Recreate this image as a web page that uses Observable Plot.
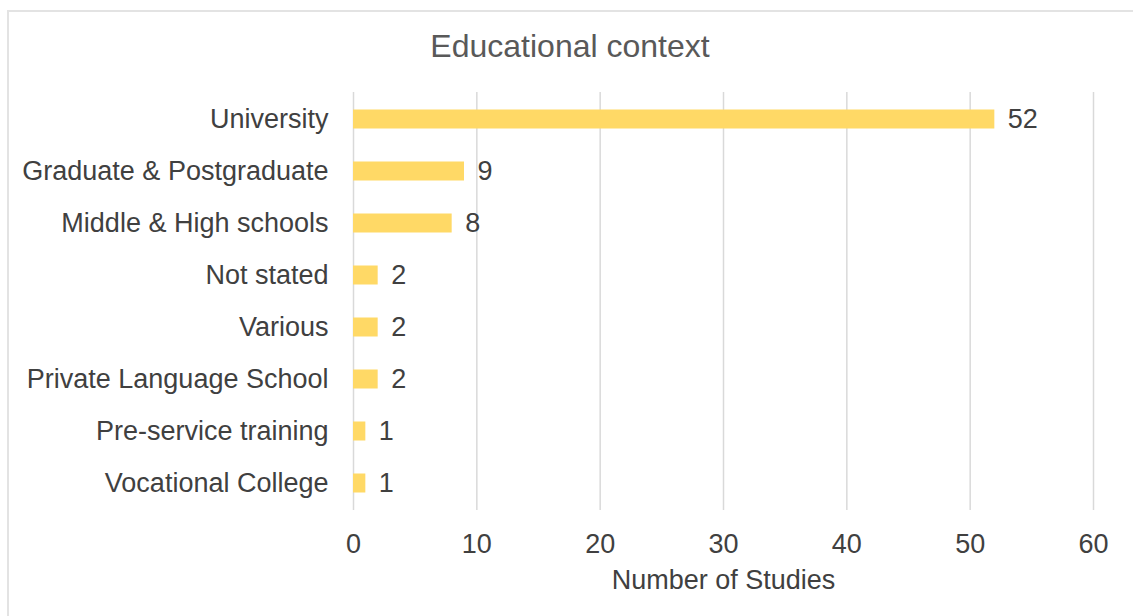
<!DOCTYPE html>
<html>
<head>
<meta charset="utf-8">
<script src="https://cdn.jsdelivr.net/npm/d3@7"></script>
<script src="https://cdn.jsdelivr.net/npm/@observablehq/plot@0.6"></script>
<style>
  html, body { margin: 0; padding: 0; background: #fff; }
  #wrap { position: relative; width: 1133px; height: 616px; overflow: hidden; font-family: "Liberation Sans", Arial, sans-serif; }
  #border { position: absolute; left: 7px; top: 10px; width: 1130px; height: 700px; border: 2px solid #e3e3e3; box-sizing: border-box; }
  #title { position: absolute; left: 0; top: 0; width: 1140px; height: 70px; line-height: 92px; text-align: center; font-size: 32px; color: #595959; }
  #chart { position: absolute; left: 0; top: 70px; }
</style>
</head>
<body>
<div id="wrap">
  <div id="border"></div>
  <div id="title">Educational context</div>
  <div id="chart"></div>
</div>
<script>
const categories = ["University", "Graduate & Postgraduate", "Middle & High schools", "Not stated", "Various", "Private Language School", "Pre-service training", "Vocational College"];
const values = [52, 9, 8, 2, 2, 2, 1, 1];
const xTicks = [0, 10, 20, 30, 40, 50, 60];

const data = categories.map((c, i) => ({category: c, value: values[i]}));

const plot = Plot.plot({
  width: 1133,
  height: 546,
  marginLeft: 353,
  marginRight: 40,
  marginTop: 22,
  marginBottom: 106,
  style: {fontFamily: '"Liberation Sans", Arial, sans-serif', fontSize: "27px", color: "#404040", background: "transparent"},
  x: {domain: [0, 60]},
  y: {domain: categories, padding: 0},
  marks: [
    Plot.gridX(xTicks, {stroke: "#d9d9d9", strokeOpacity: 1, strokeWidth: 1.5}),
    Plot.barX(data, {x: "value", y: "category", fill: "#FFD966", insetTop: 16.5, insetBottom: 16.5}),
    Plot.text(data, {x: "value", y: "category", text: d => String(d.value), textAnchor: "start", dx: 13, fill: "#404040", fontSize: 27}),
    Plot.axisY({tickSize: 0, tickPadding: 25, label: null, fontSize: 27}),
    Plot.axisX({ticks: xTicks, tickSize: 0, tickPadding: 23, label: "Number of Studies", labelAnchor: "center", labelArrow: "none", labelOffset: 78, fontSize: 27})
  ]
});
document.getElementById("chart").appendChild(plot);
</script>
</body>
</html>
